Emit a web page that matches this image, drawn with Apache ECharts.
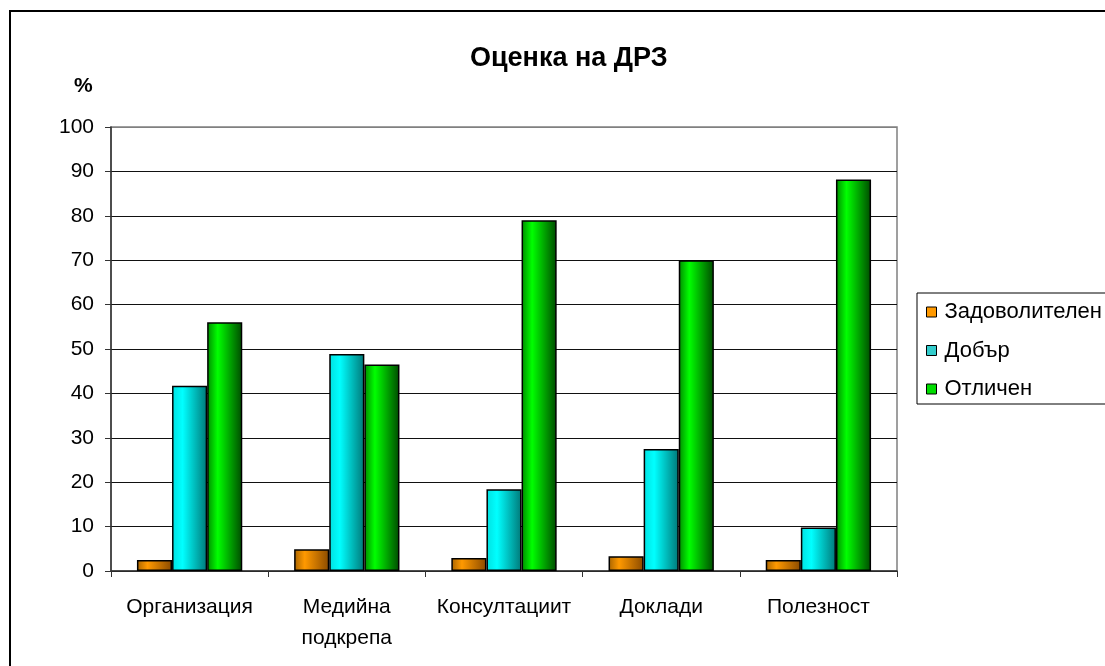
<!DOCTYPE html>
<html>
<head>
<meta charset="utf-8">
<script src="https://cdn.jsdelivr.net/npm/echarts@6/dist/echarts.min.js"></script>
<style>
  html, body { margin: 0; padding: 0; background: #fff; }
  #chart { width: 1105px; height: 666px; }
</style>
</head>
<body>
<div id="chart"></div>
<script>
const categories = ['Организация', 'Медийна\nподкрепа', 'Консултациит', 'Доклади', 'Полезност'];
const seriesNames = ['Задоволителен', 'Добър', 'Отличен'];
const zadovolitelen = [2.5, 4.9, 2.9, 3.3, 2.5];
const dobar = [41.7, 48.9, 18.4, 27.5, 9.8];
const otlichen = [56.0, 46.5, 79.0, 70.0, 88.2];
const yTicks = [0, 10, 20, 30, 40, 50, 60, 70, 80, 90, 100];

// цветове: [тъмен ляв, светъл, тъмен десен, плосък за легендата]
const palette = [
    ['#a86400', '#ff9900', '#8a4a00', '#ff9900'],
    ['#00e0e0', '#00ffff', '#007878', '#33cccc'],
    ['#008a00', '#00ff00', '#004a00', '#00dd00']
];

function shade(c) {
    return new echarts.graphic.LinearGradient(0, 0, 1, 0, [
        { offset: 0, color: c[0] },
        { offset: 0.3, color: c[1] },
        { offset: 1, color: c[2] }
    ]);
}

const chart = echarts.init(document.getElementById('chart'));
const values = [zadovolitelen, dobar, otlichen];
const font = 'Liberation Sans';

const option = {
    backgroundColor: '#fff',
    animation: false,
    title: [{
        text: 'Оценка на ДРЗ',
        left: 465,
        top: 40,
        textStyle: { fontFamily: font, fontSize: 27, fontWeight: 'bold', color: '#000' }
    }, {
        text: '%',
        left: 69,
        top: 71,
        textStyle: { fontFamily: font, fontSize: 21, fontWeight: 'bold', color: '#000' }
    }],
    graphic: [{
        type: 'rect',
        shape: { x: 10, y: 11, width: 1200, height: 800 },
        style: { fill: null, stroke: '#000', lineWidth: 2 },
        silent: true
    }, {
        type: 'rect',
        shape: { x: 111, y: 127, width: 786, height: 444 },
        style: { fill: null, stroke: '#808080', lineWidth: 1.5 },
        silent: true,
        z: 0
    }],
    legend: {
        orient: 'vertical',
        left: 917,
        top: 293,
        padding: [8, 20, 4, 9],
        itemGap: 16.5,
        itemWidth: 10,
        itemHeight: 10,
        borderColor: '#000',
        borderWidth: 1,
        icon: 'rect',
        textStyle: { fontFamily: font, fontSize: 22, color: '#000', padding: [0, 0, 0, 3] },
        data: seriesNames.map((n, i) => ({
            name: n,
            itemStyle: { color: palette[i][3], borderColor: '#000', borderWidth: 1 }
        }))
    },
    grid: { left: 111, top: 127, right: 208, bottom: 95 },
    xAxis: {
        type: 'category',
        data: categories,
        axisLine: { lineStyle: { color: '#333', width: 1.5 } },
        axisTick: { show: true, length: 6, alignWithLabel: false, lineStyle: { color: '#333' } },
        axisLabel: {
            fontFamily: font, fontSize: 21, color: '#000',
            margin: 21, lineHeight: 31, interval: 0
        }
    },
    yAxis: {
        type: 'value',
        min: 0,
        max: 100,
        interval: 10,
        axisLine: { show: true, lineStyle: { color: '#333', width: 1.5 } },
        axisTick: { show: true, length: 6, inside: false, lineStyle: { color: '#333' } },
        axisLabel: {
            fontFamily: font, fontSize: 21, color: '#000', margin: 17,
            formatter: v => yTicks.includes(v) ? String(v) : ''
        },
        splitLine: {
            lineStyle: {
                color: ['#111', '#111', '#111', '#111', '#111', '#111', '#111', '#111', '#111', '#111', '#808080'],
                width: 1
            }
        }
    },
    series: seriesNames.map((n, i) => ({
        name: n,
        type: 'bar',
        data: values[i],
        barGap: '0%',
        barCategoryGap: '33%',
        itemStyle: {
            color: shade(palette[i]),
            borderColor: '#000',
            borderWidth: 1.5
        }
    }))
};

chart.setOption(option);
</script>
</body>
</html>
